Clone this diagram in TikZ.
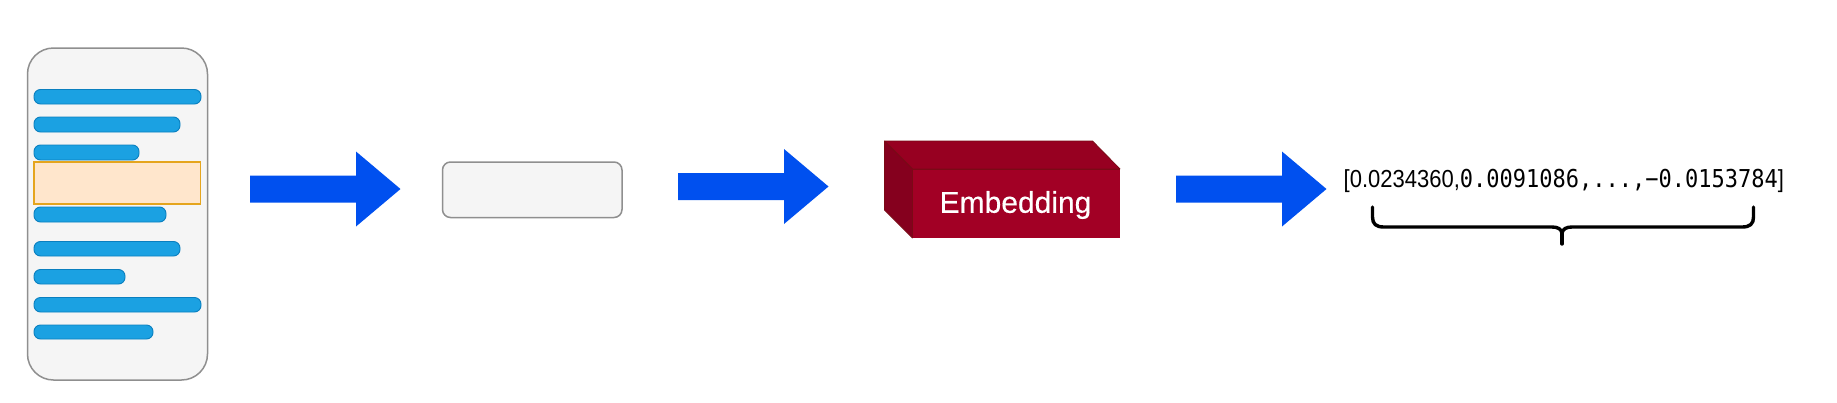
\documentclass[tikz,border=0pt]{standalone}
\usepackage{fontspec}
\setmainfont{Liberation Sans}
\newfontfamily\vecmono{DejaVu Sans Mono}
\newfontfamily\embfont[FakeBold=0.35]{Liberation Sans}
\definecolor{barfill}{HTML}{1BA1E2}
\definecolor{barline}{HTML}{0A7FBF}
\definecolor{boxfill}{HTML}{F5F5F5}
\definecolor{boxline}{HTML}{8F8F8F}
\definecolor{hifill}{HTML}{FFE6CC}
\definecolor{hiline}{HTML}{E5A51E}
\definecolor{arrowblue}{HTML}{0050EF}
\definecolor{cubefront}{HTML}{A20025}
\definecolor{cubetop}{HTML}{970021}
\definecolor{cubeside}{HTML}{85001E}
\definecolor{cubeline}{HTML}{7A0A16}
\tikzset{
  sheet/.style={draw=boxline,fill=boxfill,line width=1.5pt},
  bar/.style={draw=barline,fill=barfill,line width=0.9pt,rounded corners=6.5pt},
  cubeface/.style={draw=cubeline,line width=0.8pt,line join=bevel},
  blockarrow/.style={fill=arrowblue,draw=none},
  bracepath/.style={draw=black,line width=3.4pt,line cap=round,line join=round}
}
\newcommand{\tokenbar}[3]{\draw[bar] (34,#2) rectangle (#1,#3);}
\newcommand{\flowarrow}[2]{\fill[blockarrow] (#1,#2-13.5) -- (#1+106,#2-13.5) -- (#1+106,#2-37.5) -- (#1+150.5,#2) -- (#1+106,#2+37.5) -- (#1+106,#2+13.5) -- (#1,#2+13.5) -- cycle;}
\begin{document}
\begin{tikzpicture}[x=1pt,y=-1pt]
\useasboundingbox (0,0) rectangle (1837,402);
\fill[white] (0,0) rectangle (1837,402);
% document
\draw[sheet,rounded corners=26pt] (27.5,48) rectangle (207.5,380);
\tokenbar{201}{89.5}{104}
\tokenbar{180}{117}{132}
\tokenbar{139}{145}{160}
\draw[fill=hifill,draw=hiline,line width=1.1pt] (34,162) rectangle (200.5,204);
\tokenbar{166}{207}{222}
\tokenbar{180}{241.5}{256}
\tokenbar{125}{269.5}{284}
\tokenbar{201}{297.5}{312}
\tokenbar{153}{325}{339}
% arrows
\flowarrow{250}{189}
\flowarrow{678}{186.5}
\flowarrow{1176}{189}
% chunk
\draw[sheet,rounded corners=8pt] (442.5,162) rectangle (622,217.5);
% cube
\draw[cubeface,fill=cubetop] (884.5,141) -- (1092.5,141) -- (1120,169) -- (912.5,169) -- cycle;
\draw[cubeface,fill=cubeside] (884.5,141) -- (912.5,169) -- (912.5,238) -- (884.5,210) -- cycle;
\fill[cubefront] (912.5,169) rectangle (1120,238);
\draw[cubeline,line width=0.8pt] (912.5,169) -- (1120,169);
\node[text=white,font=\embfont\fontsize{30}{30}\selectfont,inner sep=0pt] (emb) at (1015.5,205) {Embedding};
% vector
\node[anchor=base west,inner sep=0pt,yscale=1.12,transform shape,font=\fontsize{22}{22}\selectfont] (vec) at (1343.5,187) {[0.0234360,{\vecmono 0.0091086,...,−0.0153784}]};
% brace
\draw[bracepath] (1372.5,207) -- (1372.5,217) .. controls (1372.5,224) and (1376,227) .. (1384,227) -- (1552,227) .. controls (1558,227) and (1561,229) .. (1562,233) .. controls (1563,229) and (1566,227) .. (1572,227) -- (1742,227) .. controls (1750,227) and (1753.5,224) .. (1753.5,217) -- (1753.5,207);
\draw[bracepath] (1562,232) -- (1562,244);
\end{tikzpicture}
\end{document}
